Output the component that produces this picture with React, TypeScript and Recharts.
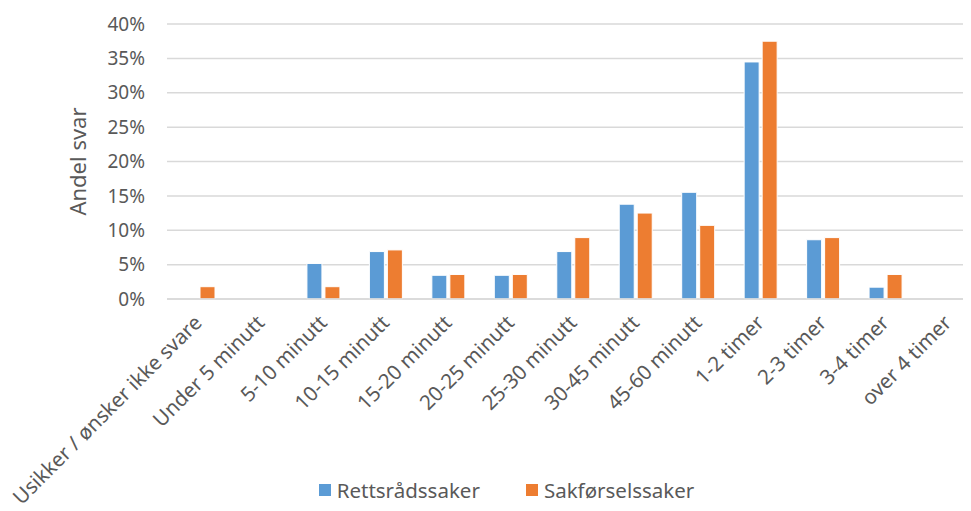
import React from 'react';
import { BarChart, Bar, XAxis, YAxis, CartesianGrid, Legend } from 'recharts';

const categories = [
  'Usikker / ønsker ikke svare',
  'Under 5 minutt',
  '5-10 minutt',
  '10-15 minutt',
  '15-20 minutt',
  '20-25 minutt',
  '25-30 minutt',
  '30-45 minutt',
  '45-60 minutt',
  '1-2 timer',
  '2-3 timer',
  '3-4 timer',
  'over 4 timer',
];
const rettsradssaker = [0, 0, 5.17, 6.9, 3.45, 3.45, 6.9, 13.79, 15.52, 34.48, 8.62, 1.72, 0];
const sakforselssaker = [1.79, 0, 1.79, 7.14, 3.57, 3.57, 8.93, 12.5, 10.71, 37.5, 8.93, 3.57, 0];
const yTicks = [0, 5, 10, 15, 20, 25, 30, 35, 40];
const seriesNames = ['Rettsrådssaker', 'Sakførselssaker'];
const colors = ['#5B9BD5', '#ED7D31'];

const data = categories.map((c, i) => ({
  name: c,
  a: rettsradssaker[i],
  b: sakforselssaker[i],
}));

const TEXT = '#595959';

const XTick = (props: any) => {
  const { x, y, payload } = props;
  return (
    <text
      x={x + 5}
      y={y + 17}
      transform={`rotate(-45, ${x + 5}, ${y + 17})`}
      textAnchor="end"
      fill={TEXT}
      fontSize={20.5}
    >
      {payload.value}
    </text>
  );
};

const LegendContent = () => (
  <div style={{ display: 'flex', justifyContent: 'center', alignItems: 'center', height: 30, fontSize: 20.5, color: TEXT }}>
    {seriesNames.map((n, i) => (
      <div key={n} style={{ display: 'flex', alignItems: 'center', marginRight: i === 0 ? 46 : 0 }}>
        <span style={{ display: 'inline-block', width: 12, height: 12, background: colors[i], marginRight: 6 }} />
        <span>{n}</span>
      </div>
    ))}
  </div>
);

export default function App() {
  return (
    <div style={{ position: 'relative', marginLeft: -8, width: 971, height: 503, overflow: 'hidden', fontFamily: '"Noto Sans", sans-serif' }}>
      <BarChart
        width={1008}
        height={503}
        data={data}
        margin={{ top: 16, right: 29, left: 8, bottom: 0 }}
        barSize={15}
        barGap={3}
      >
        <CartesianGrid vertical={false} stroke="#D9D9D9" strokeWidth={1.5} />
        <XAxis
          dataKey="name"
          interval={0}
          tickLine={false}
          axisLine={{ stroke: '#D9D9D9', strokeWidth: 1.5 }}
          tick={<XTick />}
          height={182}
        />
        <YAxis
          domain={[0, 40]}
          ticks={yTicks}
          tickFormatter={(v: number) => `${v}%`}
          axisLine={false}
          tickLine={false}
          tickSize={0}
          tickMargin={22}
          width={159}
          tick={{ fill: TEXT, fontSize: 19 }}
          label={{
            content: (p: any) => {
              const vb = p.viewBox || {};
              const cy = (vb.y || 0) + (vb.height || 0) / 2;
              return (
                <text
                  x={80}
                  y={cy}
                  transform={`rotate(-90, 80, ${cy})`}
                  textAnchor="middle"
                  dominantBaseline="middle"
                  fill={TEXT}
                  fontSize={22}
                >
                  Andel svar
                </text>
              );
            },
          }}
        />
        <Legend
          verticalAlign="bottom"
          content={<LegendContent />}
          wrapperStyle={{ left: 25, top: 467, width: 963, height: 30 }}
        />
        <Bar dataKey="a" name={seriesNames[0]} fill={colors[0]} stroke="#fff" strokeWidth={1} isAnimationActive={false} />
        <Bar dataKey="b" name={seriesNames[1]} fill={colors[1]} stroke="#fff" strokeWidth={1} isAnimationActive={false} />
      </BarChart>
    </div>
  );
}
